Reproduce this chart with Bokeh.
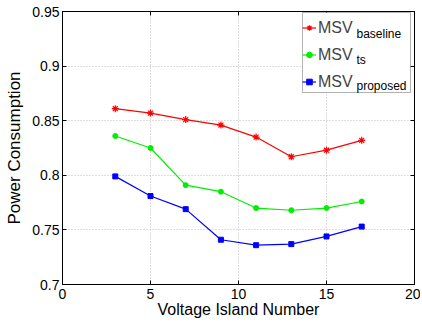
from bokeh.plotting import figure
from bokeh.models import (Range1d, FixedTicker, Legend, LegendItem, Label, LinearAxis, BoxAnnotation)
from bokeh.embed import file_html
from bokeh.resources import INLINE

x_vals = [3, 5, 7, 9, 11, 13, 15, 17]
baseline = [0.861, 0.857, 0.851, 0.846, 0.835, 0.817, 0.823, 0.832]
ts = [0.836, 0.825, 0.791, 0.785, 0.770, 0.768, 0.770, 0.776]
proposed = [0.799, 0.781, 0.769, 0.741, 0.736, 0.737, 0.744, 0.753]
x_ticks = [0, 5, 10, 15, 20]
y_ticks = [0.7, 0.75, 0.8, 0.85, 0.9, 0.95]
y_tick_labels = ["0.7", "0.75", "0.8", "0.85", "0.9", "0.95"]
series_main = "MSV"
series_subs = ["baseline", "ts", "proposed"]

FONT = "Arial"

p = figure(width=420, height=320, output_backend="svg", toolbar_location=None,
           x_range=Range1d(0, 20), y_range=Range1d(0.7, 0.95),
           min_border_left=62, min_border_right=6, min_border_top=11, min_border_bottom=36)
p.background_fill_color = "white"
p.border_fill_color = "white"
p.outline_line_color = "black"
p.outline_line_width = 1

top_axis = LinearAxis(ticker=FixedTicker(ticks=x_ticks))
right_axis = LinearAxis(ticker=FixedTicker(ticks=y_ticks))
for ax in (top_axis, right_axis):
    ax.major_label_text_font_size = "1px"
    ax.major_label_text_color = None
    ax.major_label_text_alpha = 0
    ax.major_label_standoff = 0
p.add_layout(top_axis, "above")
p.add_layout(right_axis, "right")

for ax in p.xaxis + p.yaxis:
    ax.major_tick_in = 4
    ax.major_tick_out = 0
    ax.minor_tick_line_color = None
    ax.axis_line_color = "black"
    ax.major_tick_line_color = "black"
    ax.major_label_text_font = FONT
    ax.axis_label_text_font = FONT
    ax.axis_label_text_font_style = "normal"
    ax.axis_label_text_color = "black"

bx = p.below[0]
ly = p.left[0]
for ax in (bx, ly):
    ax.major_label_text_color = "black"
    ax.major_label_text_font_size = "14px"
bx.axis_label_text_font_size = "16px"
ly.axis_label_text_font_size = "17px"
bx.ticker = FixedTicker(ticks=x_ticks)
ly.ticker = FixedTicker(ticks=y_ticks)
ly.major_label_overrides = {v: s for v, s in zip(y_ticks, y_tick_labels)}
bx.axis_label = "Voltage Island Number"
ly.axis_label = "Power Consumption"
bx.major_label_standoff = 4
ly.major_label_standoff = 3
bx.axis_label_standoff = -1
ly.axis_label_standoff = 5

p.xgrid.ticker = FixedTicker(ticks=x_ticks)
p.ygrid.ticker = FixedTicker(ticks=y_ticks)
for g in (p.xgrid, p.ygrid):
    g.grid_line_color = "#bcbcbc"
    g.grid_line_dash = "1 2"
    g.grid_line_width = 1

l1 = p.line(x_vals, baseline, color="#ff0000", line_width=1.2)
m1 = p.scatter(x_vals, baseline, marker="asterisk", size=7, color="#ff0000", line_width=1.2)
l2 = p.line(x_vals, ts, color="#00ee00", line_width=1.2)
m2 = p.scatter(x_vals, ts, marker="circle", size=5, color="#00ee00")
l3 = p.line(x_vals, proposed, color="#0000ff", line_width=1.2)
m3 = p.scatter(x_vals, proposed, marker="square", size=5, color="#0000ff")

box = BoxAnnotation(left=240, right=348, bottom=192, top=272,
                    left_units="screen", right_units="screen",
                    bottom_units="screen", top_units="screen",
                    fill_color="white", fill_alpha=1, line_color="black", line_width=1)
p.add_layout(box)

for sub, yy in zip(series_subs, [251, 225, 199]):
    p.add_layout(Label(x=294, y=yy, x_units="screen", y_units="screen", text=sub,
                       text_font=FONT, text_font_size="12px", text_baseline="alphabetic",
                       text_color="black"))

legend = Legend(items=[LegendItem(label=series_main, renderers=[l1, m1]),
                       LegendItem(label=series_main, renderers=[l2, m2]),
                       LegendItem(label=series_main, renderers=[l3, m3])],
                location=(240, 192), padding=3, spacing=6, margin=0,
                glyph_width=14, glyph_height=21, label_height=21, label_standoff=2,
                label_width=84, border_line_color=None,
                background_fill_alpha=0,
                label_text_font=FONT, label_text_font_size="16px",
                label_text_baseline="alphabetic")
p.add_layout(legend, "center")

open("out.html", "w").write(file_html(p, INLINE))
